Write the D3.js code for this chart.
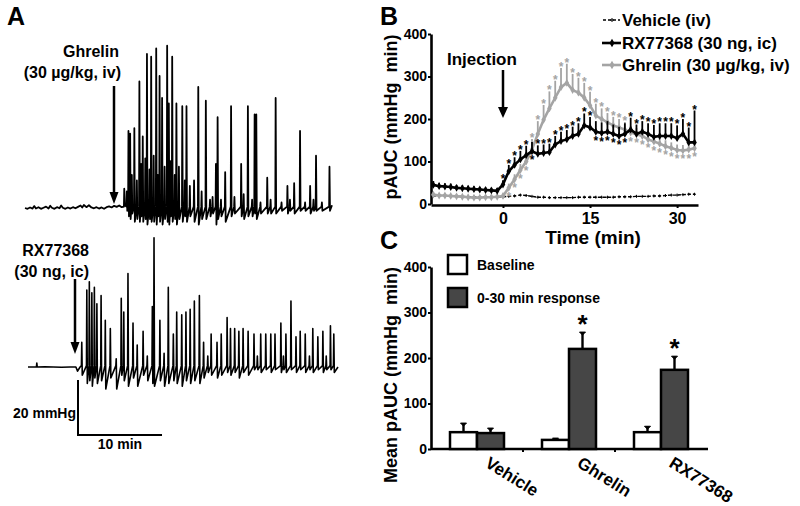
<!DOCTYPE html>
<html><head><meta charset="utf-8">
<script src="https://cdn.jsdelivr.net/npm/d3@7"></script>
<style>
body{margin:0;background:#fff;}
text{font-family:"Liberation Sans",Arial,Helvetica,sans-serif;font-weight:bold;fill:#000;}
</style></head><body>
<svg id="chart" width="800" height="506"></svg>
<script>
// ---------------- Panel A: manometry traces (time in min, pressure in mmHg) ----------------
const ghrelinBaseline = [[0,0],[0.3,-0.3],[0.6,0.2],[0.9,-0.2],[1.1,0.7],[1.3,-0.2],[1.6,0.3],[1.9,-0.3],[2.2,0.1],[2.5,0.5],[2.8,-0.2],[3.0,0.8],[3.2,0.1],[3.5,-0.3],[3.8,0.3],[4.1,-0.1],[4.3,0.9],[4.5,0.1],[4.8,-0.3],[5.1,0.2],[5.4,-0.2],[5.7,0.3],[6.0,-0.1],[6.3,0.4],[6.6,0.9],[6.8,0.2],[7.0,1.1],[7.3,0.3],[7.6,1.0],[7.9,0.2],[8.2,-0.1],[8.5,0.3],[8.8,-0.2],[9.1,0.2],[9.4,-0.3],[9.7,0.3],[10.0,0.6],[10.3,0.2],[10.6,0.8],[10.9,0.4],[11.2,0.9],[11.5,0.3]];
// [time, peak, trough]
const ghrelinSpikes = [[11.8,7,1],[12.1,6,-1],[12.3,28,-3],[12.5,27,-4],[12.7,12,-2],[13.0,29,-5],[13.3,10,-4],[13.6,46,-5],[13.8,16,-3],[14.0,26,-5],[14.3,18,-4],[14.5,56,-6],[14.8,14,-4],[15.0,55,-5],[15.3,19,-5],[15.6,58,-6],[15.8,12,-3],[16.0,48,-5],[16.3,40,-6],[16.6,15,-4],[16.9,59,-5],[17.1,38,-6],[17.3,17,-3],[17.5,55,-5],[17.8,12,-4],[18.0,38,-6],[18.3,15,-4],[18.7,37,-5],[19.0,10,-3],[19.2,37,-5],[19.6,8,-3],[20.1,10,-5],[20.6,44,-6],[21.0,6,-4],[21.5,39,-4],[22.0,3,-3],[22.3,4,-2],[22.7,16,-6],[22.9,33,-4],[23.3,3,-3],[23.8,13,-5],[24.5,37,-3],[24.9,4,-2],[25.7,16,-3],[26.0,5,-4],[26.5,37,-3],[27.0,3,-3],[27.3,34,-2],[27.5,34,-4],[28.0,2,-2],[28.8,11,-2],[29.2,3,-2],[29.8,40,-2],[30.5,2,-1],[31.2,8,-2],[31.5,3,-1],[32.0,9,-2],[32.7,28,-1],[33.3,2,-1],[33.9,8,-2],[34.3,3,-1],[34.6,19,-1],[35.3,2,-1],[36.2,15,-1]];
const ghrelinEnd = [36.5,1];

const rxBaseline = [[0,0],[1.0,0],[1.05,1.4],[1.1,0],[2,0.1],[3,0],[4,-0.1],[5,0],[5.7,0],[5.9,-1.5],[6.2,0]];
const rxSpikes = [[6.4,9,-3],[7.0,28,-6],[7.3,31,-5],[7.6,27,-7],[7.9,29,-4],[8.2,23,-6],[8.7,26,-5],[9.2,17,-8],[9.8,14,-4],[10.5,3,-8],[11.1,25,-3],[11.4,20,-5],[11.9,34,-7],[12.5,16,-4],[13.0,8,-7],[13.7,13,-3],[14.2,4,-5],[14.8,22,-6],[15.0,47,-7],[15.7,17,-5],[16.2,5,-7],[16.7,29,-6],[17.3,12,-5],[17.7,20,-6],[18.3,19,-7],[18.8,20,-5],[19.3,21,-6],[19.8,24,-5],[20.4,26,-6],[20.9,9,-4],[21.4,4,-2],[21.8,12,-3],[22.5,9,-4],[23.0,12,-3],[23.7,18,-2],[24.1,14,-3],[24.6,14,-2],[25.1,13,-4],[25.6,14,-2],[26.2,13,-3],[26.9,12,-1],[27.3,4,-1],[27.7,12,-2],[28.3,12,-1],[28.9,12,-2],[29.4,12,-1],[30.1,16,-2],[30.4,4,-1],[30.7,12,-2],[31.3,24,-1],[31.9,11,-2],[32.4,13,-1],[33.0,12,-2],[33.5,4,-1],[33.9,14,-2],[34.5,11,-1],[35.1,13,-2],[35.5,4,-1],[36.0,15,-1],[36.4,12,-2]];
const rxEnd = [36.9,0];

// ---------------- Panel B: pAUC time course ----------------
const timeMin = [-12,-11,-10,-9,-8,-7,-6,-5,-4,-3,-2,-1,0,1,2,3,4,5,6,7,8,9,10,11,12,13,14,15,16,17,18,19,20,21,22,23,24,25,26,27,28,29,30,31,32,33];
const vehicleAUC = [19,20,20,19,18,18,17,17,17,17,17,17, 17,18,19,21,20,18,16,16,15,15,15,15, 15,16,16,16,16,16,16,16,17,17,17,18, 18,18,19,19,20,21,21,22,23,23];
const rxAUC = [45,42,41,40,38,37,36,35,34,33,32,31, 46,77,92,105,115,124,118,120,122,140,148,152, 160,165,185,180,170,167,170,165,160,165,175,165, 170,165,158,160,160,160,155,165,145,145];
const rxSEM = [9,8,8,8,7,7,7,7,6,6,6,6, 10,15,18,20,22,22,20,20,20,20,22,22, 22,25,28,25,25,25,25,22,22,25,28,22, 25,25,28,30,30,30,30,35,35,75];
const ghAUC = [22,20,20,19,18,17,16,15,15,16,16,17, 19,38,58,80,100,128,165,198,225,250,275,285, 268,262,250,232,208,200,192,185,180,175,168,164, 160,152,147,142,136,132,127,126,128,131];
const ghSEM = [5,5,5,4,4,4,4,4,4,4,4,4, 5,10,12,14,12,25,30,35,40,40,45,45, 38,35,35,32,28,25,22,20,20,18,15,15, 15,15,14,14,14,13,13,13,13,13];
const rxSigTimes = [0,1,2,3,4,5,6,7,8,9,10,11,12,13,14,15,16,17,18,19,20,21,22,23,24,25,26,27,28,29,30,31,32,33];
const rxStarBelow = [5,16,17,18,19,20,21];
const ghSigTimes = [1,2,3,4,5,6,7,8,9,10,11,12,13,14,15,16,17,18,19,20,21,22,23,24,25,26,27,28,29,30,31,32,33];
const ghStarBelow = [1,2,3,4,22,23,24,25,26,27,28,29,30,31,32,33];
const bTicks = [0,100,200,300,400];
const bTimeTicks = [0,15,30];
const bLegend = ["Vehicle (iv)","RX77368 (30 ng, ic)","Ghrelin (30 \u00b5g/kg, iv)"];

// ---------------- Panel C: mean pAUC ----------------
const cGroups = ["Vehicle","Ghrelin","RX77368"];
const cSeries = ["Baseline","0-30 min response"];
const baselineMean = [37,20,37];
const baselineSEM = [20,4,13];
const responseMean = [35,220,174];
const responseSEM = [11,37,30];
const responseSig = [false,true,true];
const cTicks = [0,100,200,300,400];

// =============================================================
const svg = d3.select("#chart");
svg.append("rect").attr("width",800).attr("height",506).attr("fill","#fff");
const GRAY = "#a4a4a4";

function arrow(x, y1, tip, w, h){
  svg.append("line").attr("x1",x).attr("x2",x).attr("y1",y1).attr("y2",tip-h+1)
    .attr("stroke","#000").attr("stroke-width",2.5);
  svg.append("path").attr("d",`M${x-w/2},${tip-h}L${x+w/2},${tip-h}L${x},${tip}Z`).attr("fill","#000");
}
function label(x,y,str,size,anchor){
  return svg.append("text").attr("x",x).attr("y",y).attr("text-anchor",anchor||"start")
    .style("font-size",size+"px").text(str);
}

// ---------- Panel A ----------
label(7,25,"A",25);
const xTop = d3.scaleLinear().domain([0,36.5]).range([25,332]);
const yTop = d3.scaleLinear().domain([0,20]).range([208,153]);
const xBot = d3.scaleLinear().domain([0,36.9]).range([28,338]);
const yBot = d3.scaleLinear().domain([0,20]).range([367,312]);

function tracePts(base, spikes, end){
  const pts = base.slice();
  spikes.forEach(s => { pts.push([s[0]-0.04,0.5]); pts.push([s[0],s[1]]); pts.push([s[0]+0.06,s[2]]); });
  pts.push(end);
  return pts;
}
svg.append("path").datum(tracePts(ghrelinBaseline, ghrelinSpikes, ghrelinEnd))
  .attr("d", d3.line().x(d=>xTop(d[0])).y(d=>yTop(d[1])))
  .attr("fill","none").attr("stroke","#000").attr("stroke-width",1.8).attr("stroke-linejoin","round");
svg.append("path").datum(tracePts(rxBaseline, rxSpikes, rxEnd))
  .attr("d", d3.line().x(d=>xBot(d[0])).y(d=>yBot(d[1])))
  .attr("fill","none").attr("stroke","#000").attr("stroke-width",1.6).attr("stroke-linejoin","round");

label(119,57,"Ghrelin",16,"end");
label(121,78,"(30 \u00b5g/kg, iv)",16,"end");
arrow(114,86,204,9,12);
label(89,256,"RX77368",16,"end");
label(89,277,"(30 ng, ic)",16,"end");
arrow(75,279,354,9,12);

// scale bar
const sbX = 78, sbY = 435;
svg.append("path")
  .attr("d",`M${sbX},${sbY-(yBot(0)-yBot(20))}V${sbY}H${sbX+(xBot(10)-xBot(0))}`)
  .attr("fill","none").attr("stroke","#000").attr("stroke-width",2);
label(76,418,"20 mmHg",14,"end");
label(120,449,"10 min",14,"middle");

// ---------- Panel B ----------
label(380,25,"B",25);
const xB = d3.scaleLinear().domain([-12.4,33.6]).range([431,698]);
const yB = d3.scaleLinear().domain([0,400]).range([204,34]);

function styleAxis(g, fs){
  g.select(".domain").attr("stroke","#000").attr("stroke-width",2.6);
  g.selectAll(".tick line").attr("stroke","#000").attr("stroke-width",2);
  g.selectAll(".tick text").style("font-size",fs+"px");
}
const gyB = svg.append("g").attr("transform","translate(431,0)")
  .call(d3.axisLeft(yB).tickValues(bTicks).tickSize(3).tickSizeOuter(0).tickPadding(1));
styleAxis(gyB,14);
const gxB = svg.append("g").attr("transform","translate(0,205)")
  .call(d3.axisBottom(xB).tickValues(bTimeTicks).tickSize(3).tickSizeOuter(0).tickPadding(5));
styleAxis(gxB,16);
label(593,244,"Time (min)",19,"middle");
svg.append("text").attr("transform","translate(397,117) rotate(-90)").attr("text-anchor","middle")
  .style("font-size","18px").style("white-space","pre").text("pAUC (mmHg\u00a0\u00a0min)");

const lineB = d3.line().x((d,i)=>xB(timeMin[i])).y(d=>yB(d));
// vehicle
svg.append("path").datum(vehicleAUC).attr("d",lineB).attr("fill","none")
  .attr("stroke","#000").attr("stroke-width",1.4).attr("stroke-dasharray","3,2");
svg.append("g").selectAll("path").data(vehicleAUC).join("path")
  .attr("d",(d,i)=>`M${xB(timeMin[i])-1.5},${yB(d)}h3M${xB(timeMin[i])},${yB(d)-1.5}v3`)
  .attr("stroke","#000").attr("stroke-width",1);

function drawSeries(vals, sem, color, sigTimes, below){
  const g = svg.append("g");
  g.selectAll("line").data(vals).join("line")
    .attr("x1",(d,i)=>xB(timeMin[i])).attr("x2",(d,i)=>xB(timeMin[i]))
    .attr("y1",d=>yB(d)).attr("y2",(d,i)=>yB(d+sem[i]))
    .attr("stroke",color).attr("stroke-width",1.8);
  g.append("path").datum(vals).attr("d",lineB).attr("fill","none")
    .attr("stroke",color).attr("stroke-width",2.6);
  g.selectAll(".mk").data(vals).join("path").attr("class","mk")
    .attr("transform",(d,i)=>`translate(${xB(timeMin[i])},${yB(d)})`)
    .attr("d",d3.symbol(d3.symbolDiamond,18)).attr("fill",color);
  g.selectAll(".star").data(sigTimes).join("text").attr("class","star")
    .attr("x",t=>xB(t)).attr("text-anchor","middle")
    .attr("y",t=>{ const i = timeMin.indexOf(t);
      return below.includes(t) ? yB(vals[i])+13 : yB(vals[i]+sem[i])+3; })
    .style("font-size","12px").style("fill",color).text("*");
}
drawSeries(ghAUC, ghSEM, GRAY, ghSigTimes, ghStarBelow);
drawSeries(rxAUC, rxSEM, "#000", rxSigTimes, rxStarBelow);

// Injection arrow
label(447,65,"Injection",17);
arrow(503,70,118,10,11);

// legend B
const legY = [20,43,65];
bLegend.forEach((name,i)=>{
  const y = legY[i];
  if(i===0){
    svg.append("line").attr("x1",603).attr("x2",620).attr("y1",y).attr("y2",y)
      .attr("stroke","#000").attr("stroke-width",1.3).attr("stroke-dasharray","3,2");
    svg.append("path").attr("d",`M610,${y}h4M612,${y-2}v4`).attr("stroke","#000").attr("stroke-width",1);
  } else {
    const c = i===1 ? "#000" : GRAY;
    svg.append("line").attr("x1",602).attr("x2",621).attr("y1",y).attr("y2",y)
      .attr("stroke",c).attr("stroke-width",2.6);
    svg.append("path").attr("transform",`translate(612,${y})`).attr("d",d3.symbol(d3.symbolDiamond,22)).attr("fill",c);
  }
  label(622,y+6,name,17);
});

// ---------- Panel C ----------
label(380,249,"C",25);
const xC = d3.scaleBand().domain(cGroups).range([431,707]);
const inner = d3.scaleBand().domain(cSeries).range([-27,27]);
const yC = d3.scaleLinear().domain([0,400]).range([449,267]);

const gyC = svg.append("g").attr("transform","translate(431,0)")
  .call(d3.axisLeft(yC).tickValues(cTicks).tickSize(3).tickSizeOuter(0).tickPadding(1));
styleAxis(gyC,14);
const gxC = svg.append("g").attr("transform","translate(0,449)")
  .call(d3.axisBottom(xC).tickSize(0).tickSizeOuter(0).tickFormat(""));
gxC.select(".domain").attr("stroke","#000").attr("stroke-width",2.6).attr("d","M431,0H708");
gxC.selectAll(".sep").data(cGroups.slice(1)).join("line").attr("class","sep")
  .attr("x1",g=>xC(g)).attr("x2",g=>xC(g)).attr("y1",0).attr("y2",3)
  .attr("stroke","#000").attr("stroke-width",2);

svg.append("text").attr("transform","translate(397,375) rotate(-90)").attr("text-anchor","middle")
  .style("font-size","18px").style("white-space","pre").text("Mean pAUC (mmHg\u00a0\u00a0min)");

const cData = [];
cGroups.forEach((g,i)=>{
  cData.push({g, s:cSeries[0], v:baselineMean[i], e:baselineSEM[i], sig:false});
  cData.push({g, s:cSeries[1], v:responseMean[i], e:responseSEM[i], sig:responseSig[i]});
});
const cx = d => xC(d.g)+xC.bandwidth()/2+inner(d.s);
const gC = svg.append("g");
gC.selectAll(".err").data(cData).join("line").attr("class","err")
  .attr("x1",d=>cx(d)+inner.bandwidth()/2).attr("x2",d=>cx(d)+inner.bandwidth()/2)
  .attr("y1",d=>yC(d.v)).attr("y2",d=>yC(d.v+d.e)).attr("stroke","#000").attr("stroke-width",2.4);
gC.selectAll(".cap").data(cData).join("path").attr("class","cap")
  .attr("d",d=>{const x=cx(d)+inner.bandwidth()/2, y=yC(d.v+d.e); return `M${x-3},${y}L${x+3},${y}L${x},${y+3}Z`;})
  .attr("fill","#000").attr("stroke","#000").attr("stroke-width",1);
gC.selectAll(".bar").data(cData).join("rect").attr("class","bar")
  .attr("x",d=>cx(d)).attr("width",inner.bandwidth())
  .attr("y",d=>yC(d.v)).attr("height",d=>yC(0)-yC(d.v))
  .attr("fill",d=>d.s===cSeries[0]?"#fff":"#464646")
  .attr("stroke","#000").attr("stroke-width",2.5);
gC.selectAll(".sig").data(cData.filter(d=>d.sig)).join("text").attr("class","sig")
  .attr("x",d=>cx(d)+inner.bandwidth()/2).attr("y",d=>yC(d.v+d.e)+1)
  .attr("text-anchor","middle").style("font-size","26px").text("*");

// category labels
cGroups.forEach(g=>{
  svg.append("text").attr("transform",`translate(${xC(g)+xC.bandwidth()/2+7},466) rotate(32)`)
    .style("font-size","17px").text(g);
});

// legend C
cSeries.forEach((s,i)=>{
  const y = 255 + i*33;
  svg.append("rect").attr("x",448).attr("y",y).attr("width",19).attr("height",19)
    .attr("fill",i===0?"#fff":"#464646").attr("stroke","#000").attr("stroke-width",2.5);
  label(477,y+15,s,14);
});
</script></body></html>
